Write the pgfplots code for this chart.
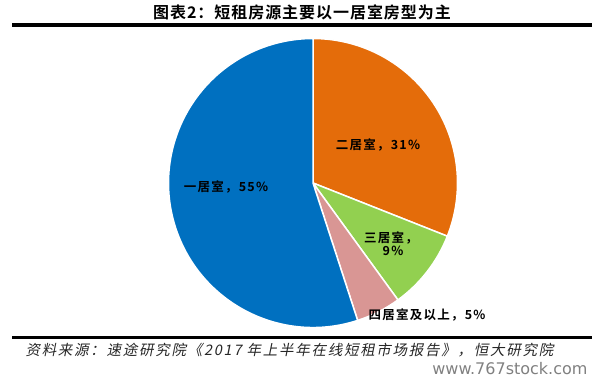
\documentclass[border=0pt]{standalone}
\usepackage{pgfplots}
\pgfplotsset{compat=1.18}
\usepackage{fontspec}
\setmainfont{Liberation Sans}
\newfontfamily\cjk{Noto Sans CJK SC}[BoldFont={Noto Sans CJK SC Bold}]
\newfontfamily\cjklab{Noto Sans CJK SC}[BoldFont={Noto Sans CJK SC Bold}, LetterSpace=10]
\newfontfamily\cjktit{Noto Sans CJK SC}[BoldFont={Noto Sans CJK SC Bold}, LetterSpace=6]
\newfontfamily\cjkit{Noto Sans CJK SC}[FakeSlant=0.2, LetterSpace=12]
\newfontfamily\wm{DejaVu Sans}
\definecolor{cblue}{HTML}{0070C0}
\definecolor{corange}{HTML}{E46C0A}
\definecolor{cgreen}{HTML}{92D050}
\definecolor{cpink}{HTML}{D99694}
% shares (percent): two-room 31, three-room 9, four-plus 5, one-room 55
\def\vA{31}\def\vB{9}\def\vC{5}\def\vD{55}
\pgfmathsetmacro{\aA}{90}
\pgfmathsetmacro{\aB}{\aA-3.6*\vA}
\pgfmathsetmacro{\aC}{\aB-3.6*\vB}
\pgfmathsetmacro{\aD}{\aC-3.6*\vC}
\pgfmathsetmacro{\aE}{\aD-3.6*\vD}
\newcommand\slice[3]{%
  \fill[#1, draw=white, line width=1.5pt, line join=round]
    (axis cs:313,201) -- ++(#2:144.5pt)
    arc[start angle=#2, end angle=#3, radius=144.5pt] -- cycle;}
\begin{document}
\begin{tikzpicture}
\begin{axis}[
  at={(0,0)}, anchor=south west,
  x=1pt, y=1pt, scale only axis,
  xmin=0, xmax=605, ymin=0, ymax=384,
  hide axis, clip=false]
\slice{corange}{\aA}{\aB}
\slice{cgreen}{\aB}{\aC}
\slice{cpink}{\aC}{\aD}
\slice{cblue}{\aD}{\aE}
% labels
\node[font=\cjklab\bfseries\fontsize{12.5}{14}\selectfont] at (axis cs:378,239) {二居室，31\%};
\node[font=\cjklab\bfseries\fontsize{12.5}{14}\selectfont, align=center] at (axis cs:391,140) {三居室，\\[-1pt]\hspace*{4pt}9\%};
\node[font=\cjklab\bfseries\fontsize{12.5}{14}\selectfont] at (axis cs:427,69) {四居室及以上，5\%};
\node[font=\cjklab\bfseries\fontsize{12.5}{14}\selectfont] at (axis cs:226,197) {一居室，55\%};
% title and rules
\node[font=\cjktit\bfseries\fontsize{16}{18}\selectfont] at (axis cs:302,372) {图表2：短租房源主要以一居室房型为主};
\fill[black] (axis cs:12,357.3) rectangle (axis cs:592,360.7);
\fill[black] (axis cs:12,45) rectangle (axis cs:592,48.3);
\node[font=\cjkit\fontsize{14.5}{16}\selectfont, text=black!85, anchor=west] at (axis cs:22,33.5) {资料来源：速途研究院《2017 年上半年在线短租市场报告》，恒大研究院};
\node[font=\wm\fontsize{16}{18}\selectfont, text=black!50, anchor=east] at (axis cs:591,15.5) {www.767stock.com};
\end{axis}
\path (0,0) rectangle (605pt,384pt);
\end{tikzpicture}
\end{document}
